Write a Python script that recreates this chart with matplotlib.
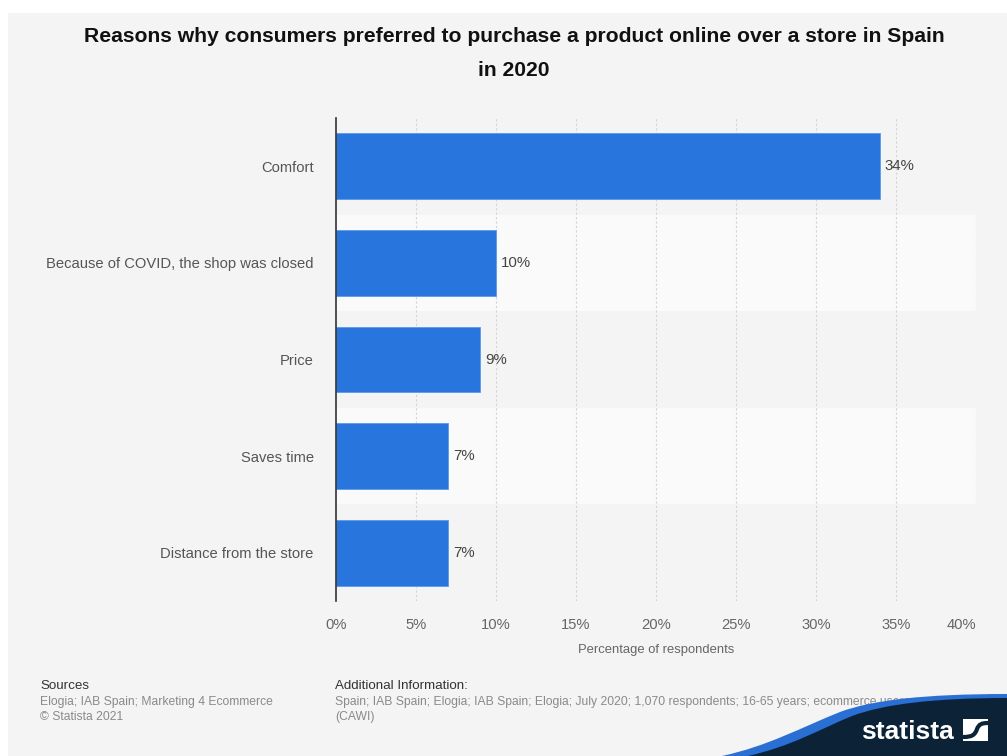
import matplotlib
matplotlib.use("Agg")
import matplotlib.pyplot as plt
from matplotlib.patches import Rectangle, PathPatch
from matplotlib.path import Path

plt.rcParams['font.family'] = ['Liberation Sans', 'DejaVu Sans']

# Survey results
categories = ["Comfort", "Because of COVID, the shop was closed", "Price",
              "Saves time", "Distance from the store"]
values = [34, 10, 9, 7, 7]
x_ticks = [0, 5, 10, 15, 20, 25, 30, 35, 40]
x_tick_labels = ["0%", "5%", "10%", "15%", "20%", "25%", "30%", "35%", "40%"]

title_lines = ["Reasons why consumers preferred to purchase a product online over a store in Spain",
               "in 2020"]
x_label = "Percentage of respondents"

W, H = 1007, 756
fig = plt.figure(figsize=(W / 100, H / 100), dpi=100, facecolor="white")

# Background canvas in pixel coordinates
bg = fig.add_axes([0, 0, 1, 1], zorder=0)
bg.set_xlim(0, W)
bg.set_ylim(H, 0)
bg.axis("off")
bg.add_patch(Rectangle((8, 13), W - 8, H - 13, facecolor="#f4f4f4", edgecolor="none"))

bg.text(514, 36, title_lines[0], ha="center", va="center", fontsize=15.2,
        fontweight="bold", color="#111111")
bg.text(514, 70, title_lines[1], ha="center", va="center", fontsize=15.2,
        fontweight="bold", color="#111111")

# Footer
bg.text(40, 686, "Sources", ha="left", va="center", fontsize=9.6, color="#333333")
bg.text(40, 702, "Elogia; IAB Spain; Marketing 4 Ecommerce", ha="left", va="center",
        fontsize=8.7, color="#8a8a8a")
bg.text(40, 717, "\u00a9 Statista 2021", ha="left", va="center", fontsize=8.7, color="#8a8a8a")
bg.text(335, 686, "Additional Information:", ha="left", va="center", fontsize=9.6, color="#333333")
bg.text(335, 702, "Spain; IAB Spain; Elogia; IAB Spain; Elogia; July 2020; 1,070 respondents; "
        "16-65 years; ecommerce users",
        ha="left", va="center", fontsize=8.7, color="#8a8a8a")
bg.text(335, 717, "(CAWI)", ha="left", va="center", fontsize=8.7, color="#8a8a8a")

# Main bar chart
ax = fig.add_axes([336 / W, 1 - 601 / H, 640 / W, (601 - 118) / H], zorder=1)
ax.set_facecolor("none")
n = len(categories)
ypos = list(range(n))
ax.set_ylim(n - 0.5, -0.5)
ax.set_xlim(0, 40)

for i in ypos:
    if i % 2 == 1:
        ax.axhspan(i - 0.5, i + 0.5, facecolor="#fafafa", edgecolor="none", zorder=0)

for xv in x_ticks[1:]:
    ax.axvline(xv, color="#d4d4d4", lw=0.8, ls=(0, (2, 2)), zorder=1)

ax.barh(ypos, values, height=0.68, color="#2876dd", edgecolor="#5b9bea",
        linewidth=0.6, zorder=2)
for y, v in zip(ypos, values):
    ax.annotate(f"{v}%", (v, y), xytext=(3.5, 0), textcoords="offset points",
                ha="left", va="center", fontsize=10.8, color="#444444")

ax.set_yticks(ypos)
ax.set_yticklabels(categories, fontsize=10.6, color="#555555")
ax.set_xticks(x_ticks)
ax.set_xticklabels(x_tick_labels, fontsize=10.6, color="#666666")
ax.get_xticklabels()[-1].set_horizontalalignment("right")
ax.tick_params(axis="y", length=0, pad=16)
ax.tick_params(axis="x", length=0, pad=12)
ax.set_xlabel(x_label, fontsize=9.4, color="#666666", labelpad=9)

for side in ["top", "right", "bottom"]:
    ax.spines[side].set_visible(False)
ax.spines["left"].set_color("#333333")
ax.spines["left"].set_linewidth(1.2)
ax.spines["left"].set_zorder(3)

# Brand wave and logo
ov = fig.add_axes([0, 0, 1, 1], zorder=2)
ov.set_xlim(0, W)
ov.set_ylim(H, 0)
ov.axis("off")
ov.set_facecolor("none")

curve_codes = [Path.MOVETO, Path.CURVE4, Path.CURVE4, Path.CURVE4,
               Path.CURVE4, Path.CURVE4, Path.CURVE4]
close_codes = [Path.LINETO, Path.CLOSEPOLY]

outer = [(722, 756), (768, 746), (800, 728), (840, 712), (872, 700), (925, 694), (1007, 694)]
inner = [(748, 756), (792, 746), (818, 730), (852, 716), (884, 704), (935, 698), (1007, 698)]
ov.add_patch(PathPatch(Path(outer + [(1007, 756), (722, 756)], curve_codes + close_codes),
                       facecolor="#2a6fd4", edgecolor="none"))
ov.add_patch(PathPatch(Path(inner + [(1007, 756), (748, 756)], curve_codes + close_codes),
                       facecolor="#0c2237", edgecolor="none"))

ov.text(907, 732, "statista", ha="center", va="center", fontsize=19,
        fontweight="bold", color="white")
ov.add_patch(Rectangle((963, 719), 25, 22, facecolor="white", edgecolor="none"))
s_curve = Path([(963, 737), (972, 737), (975, 735), (977, 729), (979, 724), (982, 723), (988, 723)],
               curve_codes)
ov.add_patch(PathPatch(s_curve, facecolor="none", edgecolor="#0c2237", lw=3.0, capstyle="butt"))

fig.savefig("out.png", dpi=100, facecolor=fig.get_facecolor())
